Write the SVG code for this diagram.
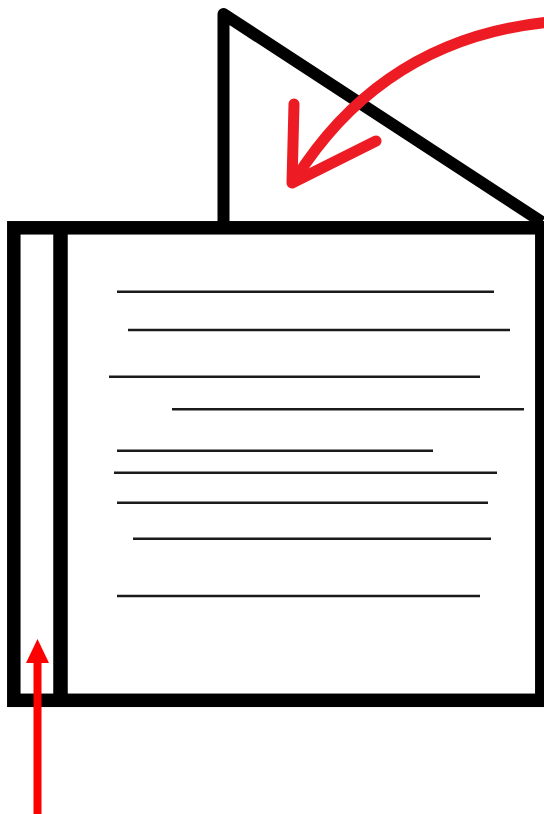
<svg xmlns="http://www.w3.org/2000/svg" width="544" height="814" viewBox="0 0 544 814">
<style>
.blk{fill:none;stroke:#000;stroke-width:13.5}
.ln{stroke:#1a1a1a;stroke-width:2.6}
.red{fill:none;stroke:#ED1C24;stroke-width:11;stroke-linecap:round;stroke-linejoin:round}
</style>
<rect width="544" height="814" fill="#fff"/>
<g id="flap">
<path d="M223.5 228 V14 L542 222" fill="none" stroke="#000" stroke-width="12" stroke-linejoin="round"/>
</g>
<g id="case">
<rect class="blk" x="13.8" y="227.8" width="528" height="472.5"/>
<line x1="60.5" y1="228" x2="60.5" y2="700" stroke="#000" stroke-width="14.5"/>
</g>
<g id="lines">
<line class="ln" x1="117" y1="291.7" x2="494" y2="291.7"/>
<line class="ln" x1="128" y1="330" x2="510" y2="330"/>
<line class="ln" x1="109" y1="376.7" x2="480" y2="376.7"/>
<line class="ln" x1="172" y1="409.3" x2="524" y2="409.3"/>
<line class="ln" x1="117" y1="450.7" x2="433" y2="450.7"/>
<line class="ln" x1="114" y1="472.7" x2="497" y2="472.7"/>
<line class="ln" x1="117" y1="502.7" x2="488" y2="502.7"/>
<line class="ln" x1="133" y1="538.7" x2="491" y2="538.7"/>
<line class="ln" x1="117" y1="596" x2="480" y2="596"/>
</g>
<g id="connectors">
<path class="red" d="M550 22 Q385 38 296 178"/>
<path class="red" d="M294 104 L292 183 L376 141"/>
<line x1="37.5" y1="814" x2="37.5" y2="660" stroke="#FF0000" stroke-width="8"/>
<polygon points="37.5,639 26,663 49,663" fill="#FF0000"/>
</g>
</svg>
